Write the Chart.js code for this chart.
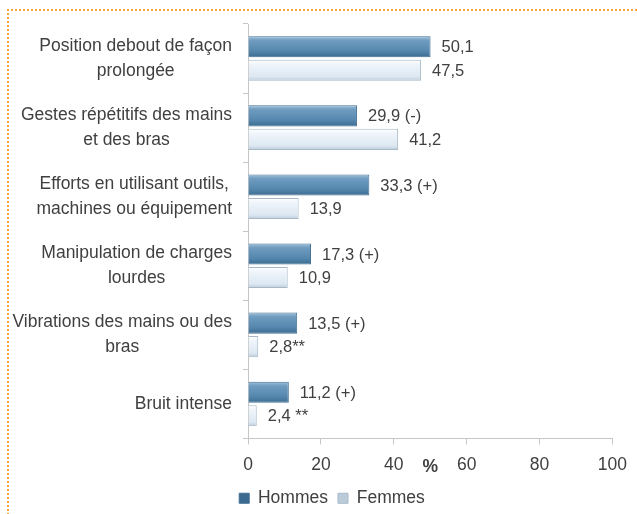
<!DOCTYPE html>
<html>
<head>
<meta charset="utf-8">
<script src="https://cdn.jsdelivr.net/npm/chart.js@4.4.1/dist/chart.umd.min.js"></script>
<style>
  html, body { margin: 0; padding: 0; background: #fff; overflow: hidden; }
  #frame {
    position: absolute; left: 7px; top: 9px; width: 700px; height: 600px;
    border-top: 2px dotted #f6a43c; border-left: 2px dotted #f6a43c;
  }
  #chart { position: absolute; left: 0; top: 0; }
</style>
</head>
<body>
<div id="frame"></div>
<canvas id="chart" width="637" height="514"></canvas>
<script>
// Categories (each one split on the lines it is drawn on)
const categories = [
    ['Position debout de façon', 'prolongée'],
    ['Gestes répétitifs des mains', 'et des bras'],
    ['Efforts en utilisant outils,', 'machines ou équipement'],
    ['Manipulation de charges', 'lourdes'],
    ['Vibrations des mains ou des', 'bras'],
    ['Bruit intense']
];

const hommes = [50.1, 29.9, 33.3, 17.3, 13.5, 11.2];
const femmes = [47.5, 41.2, 13.9, 10.9, 2.8, 2.4];

// Significance marks written after each value
const hommesNotes = ['', ' (-)', ' (+)', ' (+)', ' (+)', ' (+)'];
const femmesNotes = ['', '', '', '', '**', ' **'];

const xTicks = [0, 20, 40, 60, 80, 100];

const FONT = '"Liberation Sans", Arial, sans-serif';
const TEXT = '#404040';
const AXIS = '#c6c6c6';
const CAT_PCT = 0.68;
const BAR_PCT = 0.9;

Chart.defaults.font.family = FONT;
Chart.defaults.font.size = 17.5;
Chart.defaults.color = TEXT;

// Vertical gradient fitted to each bar, so the bars get a bevelled look
function barFill(stops) {
    return (ctx) => {
        const chart = ctx.chart;
        const y = chart.scales.y;
        const solid = stops[2][1];
        if (!y || ctx.dataIndex === undefined) {
            return solid;
        }
        const catH = Math.abs(y.getPixelForValue(1) - y.getPixelForValue(0));
        const slot = catH * CAT_PCT / 2;
        const top = y.getPixelForValue(ctx.dataIndex) - catH * CAT_PCT / 2
            + ctx.datasetIndex * slot + slot * (1 - BAR_PCT) / 2;
        const bottom = top + slot * BAR_PCT;
        if (!isFinite(top) || !isFinite(bottom) || bottom <= top) {
            return solid;
        }
        const g = chart.ctx.createLinearGradient(0, top, 0, bottom);
        stops.forEach(([o, c]) => g.addColorStop(o, c));
        return g;
    };
}

function fmt(v) {
    return v.toFixed(1).replace('.', ',');
}

// Value written at the end of every bar
const valueLabels = {
    id: 'valueLabels',
    afterDatasetsDraw(chart) {
        const ctx = chart.ctx;
        const notes = [hommesNotes, femmesNotes];
        ctx.save();
        ctx.font = '16.5px ' + FONT;
        ctx.fillStyle = TEXT;
        ctx.textBaseline = 'middle';
        ctx.textAlign = 'left';
        chart.data.datasets.forEach((ds, di) => {
            chart.getDatasetMeta(di).data.forEach((bar, i) => {
                ctx.fillText(fmt(ds.data[i]) + notes[di][i], bar.x + 11, bar.y + 1);
            });
        });
        ctx.restore();
    }
};

// Category names: lines centred on each other, block right-aligned to the axis
const categoryLabels = {
    id: 'categoryLabels',
    afterDraw(chart) {
        const ctx = chart.ctx;
        const y = chart.scales.y;
        const right = y.right - 16;
        const lineH = 25;
        ctx.save();
        ctx.font = '17.5px ' + FONT;
        ctx.fillStyle = TEXT;
        ctx.textBaseline = 'middle';
        ctx.textAlign = 'center';
        categories.forEach((lines, i) => {
            const w = Math.max(...lines.map(l => ctx.measureText(l).width));
            const cx = right - w / 2;
            const cy = y.getPixelForValue(i);
            lines.forEach((l, k) => {
                ctx.fillText(l, cx, cy + (k - (lines.length - 1) / 2) * lineH);
            });
        });
        ctx.restore();
    }
};

// "%" unit sitting among the x tick labels
const unitLabel = {
    id: 'unitLabel',
    afterDraw(chart) {
        const ctx = chart.ctx;
        const x = chart.scales.x;
        ctx.save();
        ctx.font = 'bold 17.5px ' + FONT;
        ctx.fillStyle = TEXT;
        ctx.textBaseline = 'middle';
        ctx.textAlign = 'center';
        ctx.fillText('%', (x.left + x.right) / 2, x.top + 29);
        ctx.restore();
    }
};

new Chart(document.getElementById('chart'), {
    type: 'bar',
    data: {
        labels: categories,
        datasets: [
            {
                label: 'Hommes',
                data: hommes,
                backgroundColor: barFill([[0, '#a3c3db'], [0.2, '#6f9cc0'], [0.7, '#5587ae'], [1, '#3a6a8f']]),
                borderColor: '#3f6d92',
                borderWidth: 1,
                categoryPercentage: CAT_PCT,
                barPercentage: BAR_PCT
            },
            {
                label: 'Femmes',
                data: femmes,
                backgroundColor: barFill([[0, '#ffffff'], [0.25, '#eef4fa'], [0.8, '#dde8f2'], [1, '#bccbd9']]),
                borderColor: '#a7b9c9',
                borderWidth: 1,
                categoryPercentage: CAT_PCT,
                barPercentage: BAR_PCT
            }
        ]
    },
    options: {
        indexAxis: 'y',
        responsive: false,
        animation: false,
        layout: { padding: { top: 24, left: 50, right: 23, bottom: -3 } },
        scales: {
            x: {
                min: 0,
                max: 100,
                afterBuildTicks: (s) => { s.ticks = xTicks.map(v => ({ value: v })); },
                afterFit: (s) => { s.height = 41; },
                grid: { drawOnChartArea: false, tickLength: 6, color: AXIS },
                border: { color: AXIS },
                ticks: { color: TEXT, padding: 10 }
            },
            y: {
                afterFit: (s) => { s.width = 198; },
                grid: { drawOnChartArea: false, offset: true, tickLength: 5, color: AXIS },
                border: { color: AXIS },
                ticks: { display: false }
            }
        },
        plugins: {
            legend: {
                position: 'bottom',
                labels: { boxWidth: 10, boxHeight: 10, padding: 10, color: TEXT }
            },
            tooltip: { enabled: false }
        }
    },
    plugins: [valueLabels, categoryLabels, unitLabel]
});
</script>
</body>
</html>
